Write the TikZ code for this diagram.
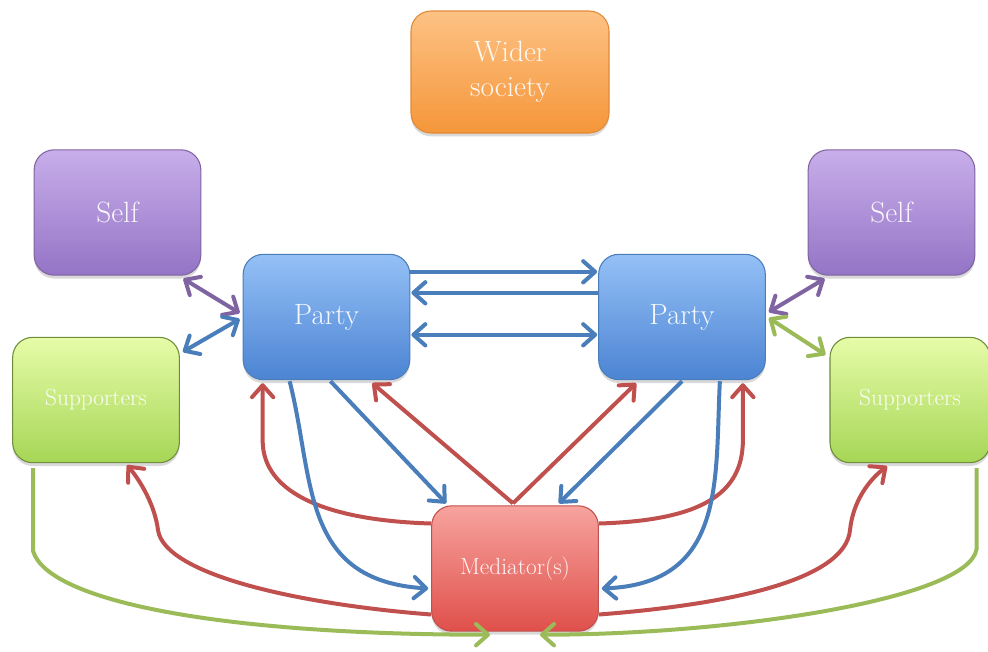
\documentclass[tikz,border=0pt]{standalone}
\usetikzlibrary{arrows.meta,calc,shadows}
\definecolor{bluel}{HTML}{4A7EBB}
\definecolor{redl}{HTML}{C0504D}
\definecolor{purl}{HTML}{8064A2}
\definecolor{greenl}{HTML}{9BBB59}
\definecolor{oTop}{HTML}{FDC284}
\definecolor{oBot}{HTML}{F5963A}
\definecolor{oDraw}{HTML}{E08A38}
\definecolor{pTop}{HTML}{C8AEEA}
\definecolor{pBot}{HTML}{9474C6}
\definecolor{bTop}{HTML}{94C0F6}
\definecolor{bBot}{HTML}{4C84D3}
\definecolor{gTop}{HTML}{E6FCA8}
\definecolor{gBot}{HTML}{A6D656}
\definecolor{gDraw}{HTML}{6E8C3A}
\definecolor{rTop}{HTML}{F7A39E}
\definecolor{rBot}{HTML}{E0504B}
\tikzset{
  box/.style={rounded corners=15pt, minimum width=125pt, minimum height=94pt,
    line width=0.8pt, text=white, text opacity=0.92, align=center, inner sep=2pt,
    drop shadow={shadow xshift=0pt,shadow yshift=-2.5pt,opacity=0.3}},
  bigtext/.style={font=\fontsize{22}{26}\selectfont},
  smalltext/.style={font=\fontsize{17.5}{21}\selectfont},
  orangebox/.style={box, draw=oDraw, top color=oTop, bottom color=oBot},
  purplebox/.style={box, draw=purl, top color=pTop, bottom color=pBot},
  bluebox/.style={box, draw=bluel, top color=bTop, bottom color=bBot},
  greenbox/.style={box, draw=gDraw, top color=gTop, bottom color=gBot},
  redbox/.style={box, draw=redl, top color=rTop, bottom color=rBot},
  con/.style={line width=3pt},
  oneway/.style={con,-{Straight Barb[length=9pt,width=16pt,round]}},
  twoway/.style={con,{Straight Barb[length=9pt,width=16pt,round]}-{Straight Barb[length=9pt,width=16pt,round]}}
}
\begin{document}
\begin{tikzpicture}[x=0.75pt,y=-0.75pt]
\useasboundingbox (0,0) rectangle (988,651);
% nodes
\node[orangebox,bigtext,minimum width=148.5pt,minimum height=91.5pt] (ws) at (510,72) {Wider\\society};
\node[purplebox,bigtext] (sL) at (117.5,212.5) {Self};
\node[purplebox,bigtext] (sR) at (891.5,212.5) {Self};
\node[bluebox,bigtext] (pL) at (326.5,317) {Party};
\node[bluebox,bigtext] (pR) at (682,317) {Party};
\node[greenbox,smalltext] (supL) at (96,400) {Supporters};
\node[greenbox,smalltext,minimum width=120pt] (supR) at (910,400) {Supporters};
\node[redbox,smalltext] (M) at (515,568.5) {Mediator(s)};
% left cluster
\draw[twoway,purl] ($(sL.south east)+(-18,3)$) -- ($(pL.west)+(-3,-4)$);
\draw[twoway,bluel] ($(supL.north east)+(3,15)$) -- ($(pL.west)+(-3,2)$);
% right cluster
\draw[twoway,purl] ($(sR.south west)+(17,3)$) -- ($(pR.east)+(3,-5)$);
\draw[twoway,greenl] ($(pR.east)+(3,1)$) -- ($(supR.north west)+(-4,18)$);
% party to party
\draw[oneway,bluel] ($(pL.north east)+(0,18)$) -- ($(pR.north west)+(-1,18)$);
\draw[oneway,bluel] ($(pR.north west)+(0,39)$) -- ($(pL.north east)+(1,39)$);
\draw[twoway,bluel] ($(pL.north east)+(1,81)$) -- ($(pR.north west)+(-1,81)$);
% mediator V
\draw[oneway,redl] ($(M.north)+(-2,-2)$) -- ($(pL.south east)+(-38,3)$);
\draw[oneway,redl] ($(M.north)+(-2,-2)$) -- ($(pR.south west)+(38,3)$);
% party to mediator straight
\draw[oneway,bluel] ($(pL.south)+(4,1)$) -- ($(M.north west)+(15,-2)$);
\draw[oneway,bluel] ($(pR.south)+(0,1)$) -- ($(M.north east)+(-40,-2)$);
% red curves mediator to parties
\draw[oneway,redl] ($(M.west)+(0,-45)$) .. controls +(-100,-3) and +(0,55) .. ($(pL.south west)+(20,60)$) -- ($(pL.south west)+(20,3)$);
\draw[oneway,redl] ($(M.east)+(0,-45)$) .. controls +(100,-3) and +(0,55) .. ($(pR.south east)+(-23,60)$) -- ($(pR.south east)+(-23,3)$);
% blue curves parties to mediator
\draw[oneway,bluel] ($(pL.south west)+(47,1)$) .. controls +(25,98) and +(-128,-8) .. ($(M.west)+(-3,20)$);
\draw[oneway,bluel] ($(pR.south east)+(-46,1)$) .. controls +(-5,98) and +(125,-5) .. ($(M.east)+(3,20)$);
% red curves mediator to supporters
\draw[oneway,redl] ($(M.west)+(0,46)$) .. controls +(-130,-10) and +(7,45) .. ($(supL.south)+(62,67)$) .. controls +(-3,-25) and +(13,15) .. ($(supL.south)+(31,2)$);
\draw[oneway,redl] ($(M.east)+(0,46)$) .. controls +(130,-10) and +(-5,50) .. ($(supR.south)+(-60,67)$) .. controls +(3,-30) and +(-17,13) .. ($(supR.south)+(-23,3)$);
% green curves supporters to mediator
\draw[oneway,greenl] ($(supL.south west)+(21,5)$) -- ($(supL.south west)+(21,88)$) .. controls +(15,50) and +(-270,0) .. ($(M.south)+(-25,3)$);
\draw[oneway,greenl] ($(supR.south east)+(-14,5)$) -- ($(supR.south east)+(-14,86)$) .. controls +(-8,50) and +(190,0) .. ($(M.south)+(25,3)$);
\end{tikzpicture}
\end{document}
